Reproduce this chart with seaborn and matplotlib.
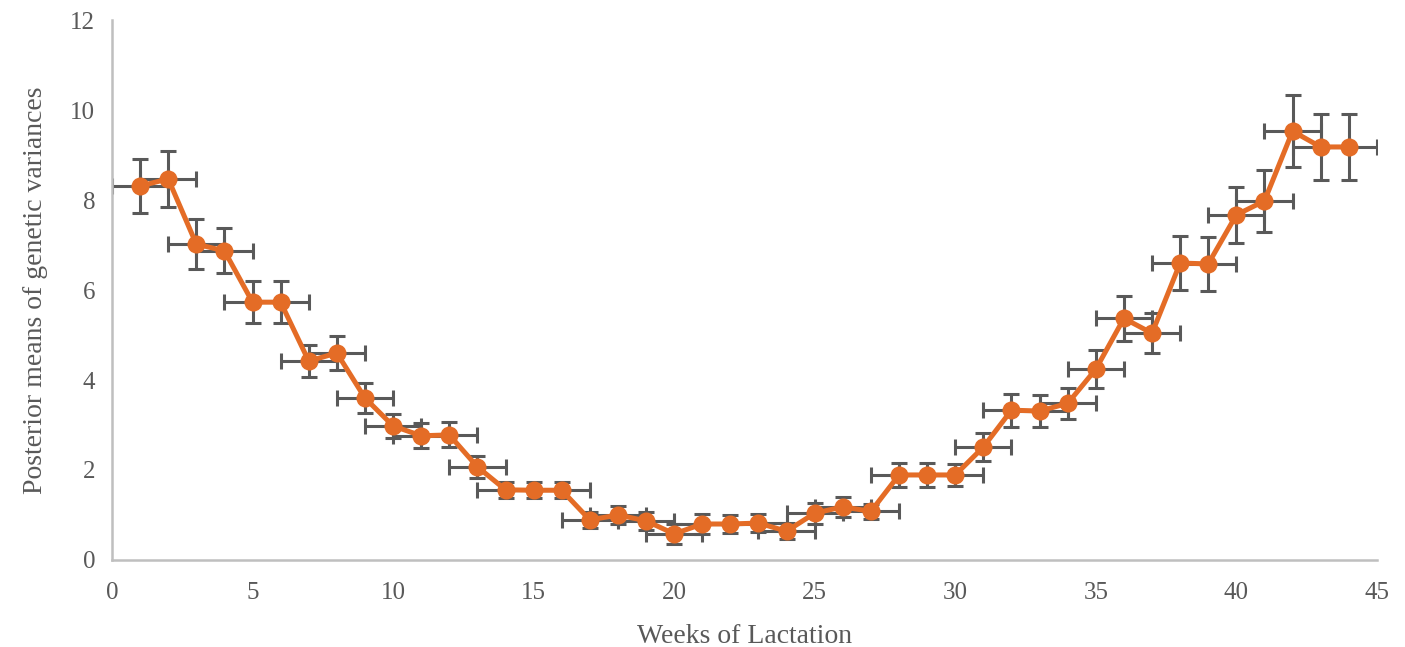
import pandas as pd
import numpy as np
import matplotlib.pyplot as plt
import seaborn as sns

# valores
semanas = list(range(1, 45))
varianza = [8.31, 8.47, 7.02, 6.87, 5.73, 5.73, 4.42, 4.60, 3.60, 2.98,
            2.76, 2.78, 2.07, 1.56, 1.55, 1.55, 0.89, 1.00, 0.87, 0.58,
            0.80, 0.80, 0.82, 0.64, 1.04, 1.18, 1.08, 1.89, 1.89, 1.89,
            2.51, 3.33, 3.31, 3.48, 4.24, 5.37, 5.04, 6.60, 6.58, 7.67,
            7.98, 9.53, 9.18, 9.18]
error_y = [0.60, 0.62, 0.55, 0.50, 0.46, 0.46, 0.35, 0.38, 0.33, 0.27,
           0.28, 0.28, 0.25, 0.18, 0.18, 0.18, 0.17, 0.19, 0.20, 0.22,
           0.22, 0.20, 0.20, 0.18, 0.23, 0.23, 0.16, 0.26, 0.26, 0.25,
           0.32, 0.37, 0.36, 0.34, 0.42, 0.50, 0.45, 0.60, 0.60, 0.62,
           0.68, 0.80, 0.73, 0.73]
error_x = [1] * len(semanas)

df = pd.DataFrame({'semana': semanas, 'varianza': varianza})

sns.set_style("white")
plt.rcParams['font.family'] = ['Liberation Serif', 'DejaVu Serif']

naranja = '#E46C26'
gris = '#595959'

fig, ax = plt.subplots(figsize=(14.05, 6.47), dpi=100)
fig.subplots_adjust(left=0.0797, right=0.98, bottom=0.1345, top=0.969)

ax.errorbar(semanas, varianza, yerr=error_y, xerr=error_x, fmt='none',
            ecolor=gris, elinewidth=2.2, capsize=6, capthick=2.2, zorder=1)
sns.lineplot(data=df, x='semana', y='varianza', color=naranja, linewidth=3.6,
             marker='o', markersize=13, markeredgewidth=0, ax=ax, zorder=2)

ax.set_xlim(0, 45)
ax.set_ylim(0, 12)
ax.set_xticks(range(0, 46, 5))
ax.set_yticks(range(0, 13, 2))
ax.tick_params(axis='both', length=0, labelsize=18, labelcolor=gris)
ax.tick_params(axis='x', pad=16)
ax.tick_params(axis='y', pad=12)

ax.set_xlabel('Weeks of Lactation', fontsize=20, color=gris, labelpad=14)
ax.set_ylabel('Posterior means of genetic variances', fontsize=20, color=gris, labelpad=16)

for lado in ['top', 'right']:
    ax.spines[lado].set_visible(False)
for lado in ['left', 'bottom']:
    ax.spines[lado].set_color('#BFBFBF')
    ax.spines[lado].set_linewidth(1.8)

plt.savefig('out.png', dpi=100)
